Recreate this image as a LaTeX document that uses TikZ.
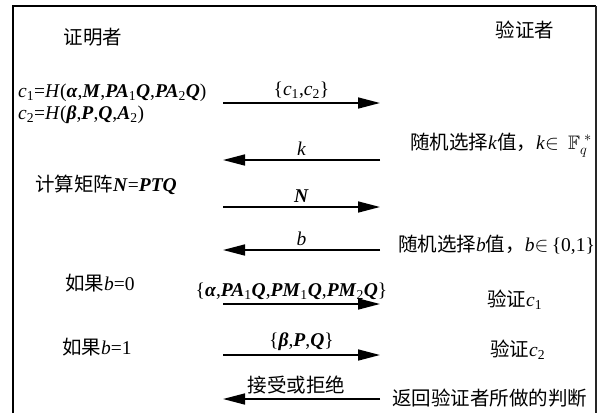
\documentclass[tikz,border=0pt]{standalone}
\usepackage{fontspec}
\usepackage{amssymb}
\setmainfont{Liberation Serif}
\newfontfamily\cjk{Noto Sans CJK SC}
\usetikzlibrary{arrows.meta}
% bold italic symbols and upright subscripts
\newcommand\bi[1]{\textbf{\textit{#1}}}
\newcommand\sbs[1]{\textsubscript{\upshape\mdseries #1}}
\begin{document}
\begin{tikzpicture}[x=1pt,y=-1pt,
  txt/.style={inner sep=0pt, font=\fontsize{19.5}{22}\selectfont},
  lbl/.style={midway, above, inner sep=4pt, font=\fontsize{19.5}{22}\selectfont},
  msg/.style={line width=1.6pt, -{Triangle[length=22pt,width=11pt]}}]
\useasboundingbox (0,0) rectangle (602,413);
% frame, open at the bottom
\draw[line width=2pt] (13,413) -- (13,6) -- (596,6);
\draw[line width=1.2pt, black!85] (596,6) -- (596,413);

% headings
\node[txt] (prover) at (93,37) {\cjk 证明者};
\node[txt] (verifier) at (525,30) {\cjk 验证者};

% prover side
\node[txt, anchor=west, align=left] (commit) at (18,104)
  {\textit{c}\sbs{1}=\textit{H}(\bi{α},\bi{M},\bi{PA}\sbs{1}\bi{Q},\bi{PA}\sbs{2}\bi{Q})\\
   \textit{c}\sbs{2}=\textit{H}(\bi{β},\bi{P},\bi{Q},\bi{A}\sbs{2})};
\node[txt, anchor=west] (calc) at (35,185) {{\cjk 计算矩阵}\bi{N}=\bi{PTQ}};
\node[txt, anchor=west] (if0) at (65,283) {{\cjk 如果}\textit{b}=0};
\node[txt, anchor=west] (if1) at (62,347) {{\cjk 如果}\textit{b}=1};

% verifier side
\node[txt, anchor=west] (pickk) at (410,145)
  {{\cjk 随机选择}\textit{k}{\cjk 值，}\textit{k}$\in\,\mathbb{F}_q^{\;*}$};
\node[txt, anchor=west] (pickb) at (398,245)
  {{\cjk 随机选择}\textit{b}{\cjk 值，}\textit{b}$\in$\,\{0,1\}};
\node[txt, anchor=west] (ver1) at (487,300) {{\cjk 验证}\textit{c}\sbs{1}};
\node[txt, anchor=west] (ver2) at (490,350) {{\cjk 验证}\textit{c}\sbs{2}};
\node[txt, anchor=west] (ret) at (392,398) {\cjk 返回验证者所做的判断};

% message end points
\foreach \i/\y in {1/103,2/160,3/207,4/250,5/304,6/355,7/399}{
  \coordinate (p\i) at (223,\y);
  \coordinate (v\i) at (380,\y);
}

% messages
\draw[msg] (p1) -- node[lbl] (m1) {\{\textit{c}\sbs{1},\textit{c}\sbs{2}\}} (v1);
\draw[msg] (v2) -- node[lbl] (m2) {\textit{k}} (p2);
\draw[msg] (p3) -- node[lbl] (m3) {\bi{N}} (v3);
\draw[msg] (v4) -- node[lbl] (m4) {\textit{b}} (p4);
\draw[msg] (p5) -- node[lbl, xshift=-10pt] (m5)
  {\{\bi{α},\bi{PA}\sbs{1}\bi{Q},\bi{PM}\sbs{1}\bi{Q},\bi{PM}\sbs{2}\bi{Q}\}} (v5);
\draw[msg] (p6) -- node[lbl] (m6) {\{\bi{β},\bi{P},\bi{Q}\}} (v6);
\draw[msg] (v7) -- node[lbl, xshift=-5pt] (m7) {\cjk 接受或拒绝} (p7);
\end{tikzpicture}
\end{document}
